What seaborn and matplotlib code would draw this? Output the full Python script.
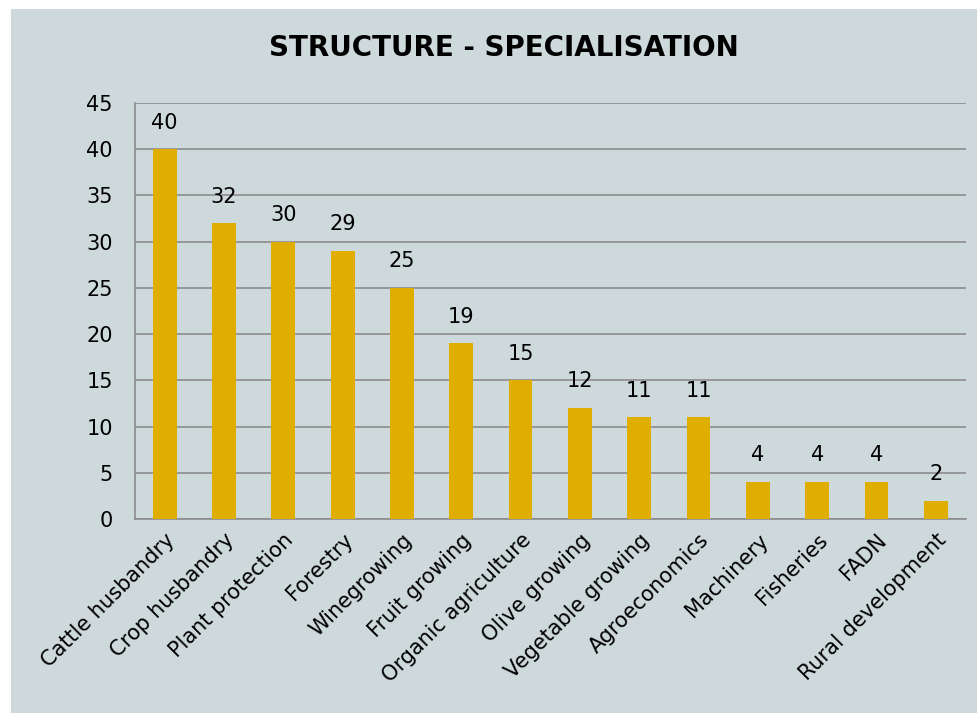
import matplotlib
matplotlib.use("Agg")
import matplotlib.pyplot as plt
import seaborn as sns
import pandas as pd
from matplotlib.patches import Rectangle

# Data
categories = ["Cattle husbandry", "Crop husbandry", "Plant protection", "Forestry",
              "Winegrowing", "Fruit growing", "Organic agriculture", "Olive growing",
              "Vegetable growing", "Agroeconomics", "Machinery", "Fisheries",
              "FADN", "Rural development"]
counts = [40, 32, 30, 29, 25, 19, 15, 12, 11, 11, 4, 4, 4, 2]
y_ticks = list(range(0, 50, 5))

df = pd.DataFrame({"Specialisation": categories, "Count": counts})

BG = "#CDD9DB"
BAR = "#DFAE00"
GRID = "#8C8C8C"

sns.set_theme(style="white")
plt.rcParams["font.family"] = ["DejaVu Sans"]

fig = plt.figure(figsize=(9.77, 7.13), dpi=100, facecolor="white")
fig.patches.append(Rectangle((11 / 977, 0), 1 - 11 / 977, 1 - 9 / 713,
                             transform=fig.transFigure, facecolor=BG,
                             edgecolor="none", zorder=-10))
ax = fig.add_axes([0.1382, 0.2721, 0.8501, 0.5834])
ax.set_facecolor(BG)

sns.barplot(data=df, x="Specialisation", y="Count", color=BAR, width=0.4,
            saturation=1, linewidth=0, ax=ax, zorder=3)

ax.set_ylim(0, 45)
ax.set_yticks(y_ticks)
ax.yaxis.grid(True, color=GRID, linewidth=1.2)
ax.set_axisbelow(True)
for s in ["top", "right"]:
    ax.spines[s].set_visible(False)
for s in ["left", "bottom"]:
    ax.spines[s].set_color(GRID)
    ax.spines[s].set_linewidth(1.2)
ax.tick_params(axis="both", length=0, labelsize=15, colors="black")
ax.tick_params(axis="y", pad=16)
ax.set_xlabel("")
ax.set_ylabel("")
for lbl in ax.get_xticklabels():
    lbl.set_rotation(45)
    lbl.set_ha("right")
    lbl.set_rotation_mode("anchor")
ax.tick_params(axis="x", pad=8)

# value labels above the bars
for cont in ax.containers:
    ax.bar_label(cont, padding=12, fontsize=15, color="black")

fig.text(0.516, 1 - 48 / 713, "STRUCTURE - SPECIALISATION", ha="center",
         va="center", fontsize=20, fontweight="bold", color="black")

fig.savefig("out.png", dpi=100, facecolor="white")
